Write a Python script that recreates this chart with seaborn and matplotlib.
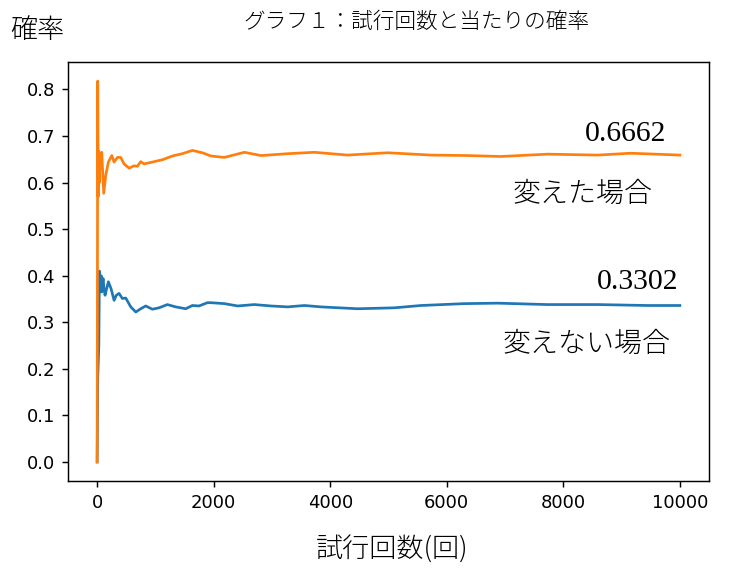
import numpy as np
import pandas as pd
import matplotlib
matplotlib.use("Agg")
import matplotlib.pyplot as plt
import seaborn as sns

# ==========================================
# Data
# ==========================================
trials_switch = [1, 11, 20, 29, 40, 50, 63, 80, 114, 148, 194, 252, 292, 349,
                 406, 463, 549, 635, 692, 749, 806, 949, 1120, 1292, 1463,
                 1635, 1806, 1955, 2184, 2527, 2813, 3271, 3728, 4300, 4986,
                 5729, 6358, 6930, 7730, 8588, 9159, 10000]
rate_switch = [0.0, 0.818, 0.57, 0.667, 0.60, 0.66, 0.629, 0.665, 0.577, 0.615,
               0.644, 0.658, 0.644, 0.654, 0.654, 0.640, 0.631, 0.636, 0.635,
               0.645, 0.640, 0.644, 0.649, 0.657, 0.662, 0.669, 0.664, 0.657,
               0.654, 0.665, 0.658, 0.662, 0.665, 0.659, 0.664, 0.659, 0.658,
               0.656, 0.661, 0.659, 0.663, 0.659]

trials_stay = [1, 11, 30, 40, 55, 70, 80, 103, 120, 137, 160, 194, 240, 292,
               330, 377, 434, 492, 578, 664, 749, 835, 949, 1063, 1206, 1349,
               1521, 1635, 1749, 1892, 1955, 2184, 2413, 2698, 2985, 3271,
               3557, 3843, 4472, 5100, 5557, 6300, 6873, 7730, 8588, 9446,
               10000]
rate_stay = [0.0, 0.18, 0.25, 0.41, 0.37, 0.40, 0.365, 0.394, 0.37, 0.358,
             0.37, 0.387, 0.372, 0.347, 0.358, 0.362, 0.351, 0.352, 0.333,
             0.322, 0.329, 0.335, 0.328, 0.331, 0.338, 0.333, 0.329, 0.336,
             0.335, 0.342, 0.342, 0.340, 0.335, 0.338, 0.335, 0.333, 0.336,
             0.333, 0.329, 0.331, 0.336, 0.340, 0.341, 0.338, 0.338, 0.336,
             0.336]

labels = ["変えない場合", "変えた場合"]
final_values = ["0.3302", "0.6662"]

df = pd.concat([
    pd.DataFrame({"trial": trials_stay, "rate": rate_stay, "case": labels[0]}),
    pd.DataFrame({"trial": trials_switch, "rate": rate_switch, "case": labels[1]}),
])

jp = ["Noto Sans CJK JP", "DejaVu Sans"]

fig = plt.figure(figsize=(741 / 130, 571 / 130), dpi=130)
ax = fig.add_axes([68 / 741, 1 - 481 / 571, 641 / 741, 419 / 571])

sns.lineplot(data=df, x="trial", y="rate", hue="case", hue_order=labels,
             palette={labels[0]: "#1f77b4", labels[1]: "#ff7f0e"},
             linewidth=1.5, legend=False, ax=ax, sort=True, estimator=None)

ax.set_xticks([0, 2000, 4000, 6000, 8000, 10000])
ax.set_yticks(np.arange(0, 0.81, 0.1))

# annotations
ax.text(8370, 0.689, final_values[1], family="Liberation Serif", fontsize=16.5,
        ha="left", va="baseline")
ax.text(7136, 0.576, labels[1], family=jp, fontsize=15.5, fontweight="light",
        ha="left", va="center")
ax.text(8576, 0.372, final_values[0], family="Liberation Serif", fontsize=16.5,
        ha="left", va="baseline")
ax.text(6964, 0.253, labels[0], family=jp, fontsize=15.5, fontweight="light",
        ha="left", va="center")

ax.set_xlabel("試行回数(回)", family=jp, fontsize=15, fontweight="light",
              va="center", ha="center")
ax.xaxis.set_label_coords(0.505, -0.165)
ax.set_ylabel("確率", family=jp, fontsize=15, fontweight="light", rotation=0,
              va="center", ha="center")
ax.yaxis.set_label_coords(-0.048, 1.076)
ax.set_title("グラフ１：試行回数と当たりの確率", family=jp, fontsize=12,
             fontweight="light", x=0.543, y=1.069, va="center")

plt.savefig("out.png", dpi=130)
plt.close()
